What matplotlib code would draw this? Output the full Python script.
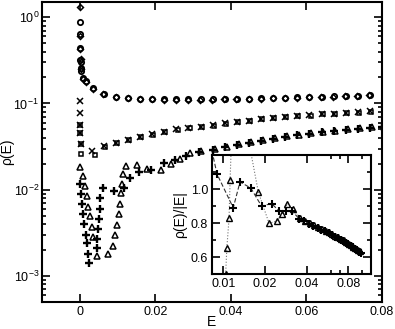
import numpy as np
import matplotlib
matplotlib.use("Agg")
import matplotlib.pyplot as plt
from matplotlib.ticker import FixedLocator, NullFormatter, LogLocator

plt.rcParams['font.family'] = ['Liberation Sans', 'DejaVu Sans']
plt.rcParams['mathtext.fontset'] = 'custom'
plt.rcParams['mathtext.rm'] = 'Liberation Sans'

# upper branch: circles and diamonds
E_circ = [0.0001, 0.0001, 0.0002, 0.0002, 0.0003, 0.0003, 0.0004, 0.0008, 0.0016, 0.0035,
          0.0064, 0.0096, 0.0128, 0.016, 0.0192, 0.0224, 0.0256, 0.0288, 0.032, 0.0352,
          0.0384, 0.0416, 0.0448, 0.048, 0.0512, 0.0544, 0.0576, 0.0608, 0.064, 0.0672,
          0.0704, 0.0736, 0.0768]
rho_circ = [0.87, 0.63, 0.44, 0.32, 0.30, 0.255, 0.235, 0.195, 0.18, 0.15,
            0.13, 0.119, 0.116, 0.114, 0.113, 0.112, 0.112, 0.112, 0.112, 0.112,
            0.113, 0.113, 0.114, 0.115, 0.116, 0.117, 0.118, 0.119, 0.120, 0.121,
            0.122, 0.123, 0.125]
E_dia = [0.0001, 0.0001, 0.0002, 0.0003, 0.0004, 0.0009, 0.0018, 0.0034,
         0.0063, 0.0095, 0.0127, 0.0159, 0.0191, 0.0223, 0.0255, 0.0287, 0.0319, 0.0351,
         0.0383, 0.0415, 0.0447, 0.0479, 0.0511, 0.0543, 0.0575, 0.0607, 0.0639, 0.0671,
         0.0703, 0.0735, 0.0767]
rho_dia = [1.32, 0.61, 0.43, 0.33, 0.25, 0.19, 0.175, 0.148,
           0.129, 0.118, 0.115, 0.113, 0.112, 0.111, 0.111, 0.111, 0.111, 0.111,
           0.112, 0.112, 0.113, 0.114, 0.115, 0.116, 0.117, 0.118, 0.119, 0.120,
           0.121, 0.122, 0.124]

# middle branch: crosses and squares
E_x = [0.0001, 0.0001, 0.0002, 0.0002, 0.0003, 0.0032,
       0.0064, 0.0096, 0.0128, 0.016, 0.0192, 0.0224, 0.0256, 0.0288, 0.032, 0.0352,
       0.0384, 0.0416, 0.0448, 0.048, 0.0512, 0.0544, 0.0576, 0.0608, 0.064, 0.0672,
       0.0704, 0.0736, 0.0768]
rho_x = [0.108, 0.078, 0.057, 0.045, 0.034, 0.028,
         0.032, 0.035, 0.038, 0.041, 0.044, 0.047, 0.050, 0.052, 0.054, 0.056,
         0.059, 0.061, 0.063, 0.066, 0.068, 0.070, 0.072, 0.073, 0.075, 0.076,
         0.078, 0.079, 0.081]
E_sq = [0.0002, 0.0002, 0.0003, 0.0004, 0.0040,
        0.0067, 0.0099, 0.0131, 0.0163, 0.0195, 0.0227, 0.0259, 0.0291, 0.0323, 0.0355,
        0.0387, 0.0419, 0.0451, 0.0483, 0.0515, 0.0547, 0.0579, 0.0611, 0.0643, 0.0675,
        0.0707, 0.0739, 0.0771]
rho_sq = [0.057, 0.045, 0.034, 0.026, 0.025,
          0.0315, 0.0345, 0.0375, 0.0405, 0.0435, 0.0465, 0.0495, 0.0515, 0.0535, 0.0555,
          0.0585, 0.0605, 0.0625, 0.0655, 0.0675, 0.0695, 0.0715, 0.0725, 0.0745, 0.0755,
          0.0775, 0.0785, 0.0805]

# lower branch: triangles and pluses
E_tri = [0.0000, 0.0008, 0.0013, 0.0019, 0.0021, 0.0027, 0.0032, 0.0035, 0.0045,
         0.0075, 0.0088, 0.0093, 0.0099, 0.0104, 0.0106, 0.0110, 0.0112, 0.0115,
         0.0123, 0.0152, 0.0179, 0.0214, 0.0243, 0.0266, 0.0291, 0.0320,
         0.0357, 0.0389, 0.0421, 0.0453, 0.0485, 0.0517, 0.0549, 0.0581, 0.0613,
         0.0645, 0.0677, 0.0709, 0.0741, 0.0773, 0.0805, 0.0837, 0.0869, 0.0901,
         0.0933, 0.0965]
rho_tri = [0.0185, 0.0146, 0.0112, 0.0085, 0.0063, 0.0050, 0.0037, 0.0028, 0.0017,
           0.0018, 0.0022, 0.0030, 0.0039, 0.0052, 0.0069, 0.0091, 0.0118, 0.0154,
           0.0190, 0.0196, 0.0176, 0.0171, 0.0197, 0.0227, 0.0266, 0.0282,
           0.0297, 0.0317, 0.0337, 0.0357, 0.0377, 0.0396, 0.0415, 0.0433, 0.0451,
           0.0468, 0.0485, 0.0501, 0.0517, 0.0532, 0.0547, 0.0561, 0.0575, 0.0588,
           0.0600, 0.0612]
E_plus = [0.0000, 0.0003, 0.0005, 0.0008, 0.0011, 0.0016, 0.0019, 0.0021, 0.0024,
          0.0045, 0.0046, 0.0048, 0.0051, 0.0053, 0.0053, 0.0061, 0.0090, 0.0118,
          0.0132, 0.0158, 0.0189, 0.0223, 0.0252, 0.0282, 0.0315,
          0.0352, 0.0384, 0.0416, 0.0448, 0.048, 0.0512, 0.0544, 0.0576, 0.0608,
          0.064, 0.0672, 0.0704, 0.0736, 0.0768, 0.080, 0.0832, 0.0864, 0.0896,
          0.0928, 0.096, 0.0992]
rho_plus = [0.0117, 0.0090, 0.0069, 0.0052, 0.0040, 0.0030, 0.0024, 0.0018, 0.0014,
            0.0021, 0.0027, 0.0035, 0.0046, 0.0060, 0.0080, 0.0105, 0.0098, 0.0105,
            0.01375, 0.0159, 0.0170, 0.0204, 0.0220, 0.0245, 0.0274,
            0.0291, 0.0311, 0.0331, 0.0351, 0.0371, 0.0390, 0.0409, 0.0426, 0.0444,
            0.0461, 0.0478, 0.0494, 0.0510, 0.0525, 0.0540, 0.0554, 0.0568, 0.0581,
            0.0593, 0.0605, 0.0617]

fig = plt.figure(figsize=(3.95, 3.29), dpi=100)
ax = fig.add_axes([0.106, 0.082, 0.861, 0.912])

mk = dict(ls='none', mfc='none', mec='black', color='black')
ax.plot(E_circ, rho_circ, marker='o', ms=3.8, mew=1.3, **mk)
ax.plot(E_dia, rho_dia, marker='D', ms=3.0, mew=1.1, **mk)
ax.plot(E_x, rho_x, marker='x', ms=3.8, mew=1.1, **mk)
ax.plot(E_sq, rho_sq, marker='s', ms=3.2, mew=1.1, **mk)
ax.plot(E_tri, rho_tri, marker='^', ms=4.0, mew=1.1, **mk)
ax.plot(E_plus, rho_plus, marker='+', ms=5.5, mew=1.7, **mk)

ax.set_yscale('log')
ax.set_xlim(-0.01, 0.08)
ax.set_ylim(5e-4, 1.5)
ax.set_xticks([0, 0.02, 0.04, 0.06, 0.08])
ax.set_xticklabels(['0', '0.02', '0.04', '0.06', '0.08'])
ax.yaxis.set_major_locator(LogLocator(base=10, numticks=10))
ax.yaxis.set_minor_locator(LogLocator(base=10, subs=np.arange(2, 10), numticks=10))
ax.yaxis.set_minor_formatter(NullFormatter())
ax.tick_params(which='both', direction='in', top=True, right=True, labelsize=9, width=1.2)
ax.tick_params(axis='y', pad=2)
ax.tick_params(axis='x', pad=3)
ax.tick_params(which='major', length=6)
ax.tick_params(which='minor', length=3)
for s in ax.spines.values():
    s.set_linewidth(1.5)
ax.set_xlabel('E', fontsize=10)
ax.set_ylabel('ρ(E)', fontsize=10)
ax.xaxis.set_label_coords(0.5, -0.042)
ax.yaxis.set_label_coords(-0.082, 0.5)

# inset: rho(E)/|E|
ins = fig.add_axes([0.537, 0.167, 0.4025, 0.3617])
Et = np.array(E_tri)
Ep = np.array(E_plus)
mt = Et > 0.005
mp = Ep > 0.005
ins.plot(Et[mt], np.array(rho_tri)[mt] / Et[mt], color='0.45', ls=':', lw=0.8,
         marker='^', ms=4.0, mfc='none', mec='black', mew=1.0)
ins.plot(Ep[mp], np.array(rho_plus)[mp] / Ep[mp], color='0.2', ls=(0, (4, 2)), lw=0.8,
         marker='+', ms=5.5, mec='black', mew=1.5)
ins.set_xscale('log')
ins.set_xlim(0.0083, 0.117)
ins.set_ylim(0.5, 1.2)
ins.xaxis.set_major_locator(FixedLocator([0.01, 0.02, 0.04, 0.08]))
ins.xaxis.set_minor_locator(FixedLocator([0.06, 0.07, 0.1]))
ins.xaxis.set_minor_formatter(NullFormatter())
ins.set_xticklabels(['0.01', '0.02', '0.04', '0.08'])
ins.set_yticks([0.6, 0.8, 1.0])
ins.set_yticklabels(['0.6', '0.8', '1.0'])
ins.yaxis.set_minor_locator(FixedLocator([0.5, 0.7, 0.9, 1.1]))
ins.tick_params(which='both', direction='in', top=True, right=True, labelsize=9, width=1.2, pad=3)
ins.tick_params(which='major', length=6)
ins.tick_params(which='minor', length=3)
for s in ins.spines.values():
    s.set_linewidth(1.5)
ins.set_ylabel('ρ(E)/|E|', fontsize=10)
ins.yaxis.set_label_coords(-0.157, 0.5)

fig.savefig('out.png', dpi=100)
